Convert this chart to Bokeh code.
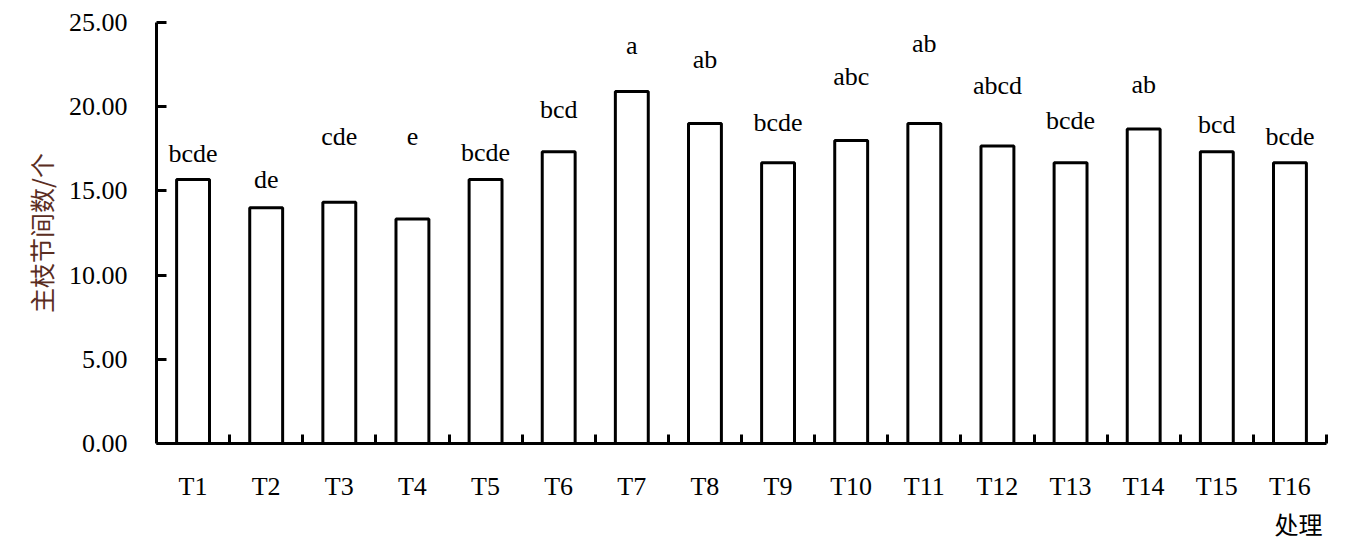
from bokeh.plotting import figure
from bokeh.models import (Range1d, LinearAxis, FixedTicker,
                          PrintfTickFormatter, Title, ColumnDataSource)
from bokeh.core.properties import value
from bokeh.embed import file_html
from bokeh.resources import INLINE

categories = ["T1", "T2", "T3", "T4", "T5", "T6", "T7", "T8",
              "T9", "T10", "T11", "T12", "T13", "T14", "T15", "T16"]
values = [15.67, 14.00, 14.33, 13.33, 15.67, 17.33, 20.90, 19.00,
          16.67, 18.00, 19.00, 17.67, 16.67, 18.67, 17.33, 16.67]
letters = ["bcde", "de", "cde", "e", "bcde", "bcd", "a", "ab",
           "bcde", "abc", "ab", "abcd", "bcde", "ab", "bcd", "bcde"]
letter_y = [17.25, 15.68, 18.24, 18.24, 17.29, 19.86, 23.62, 22.82,
            19.07, 21.78, 23.77, 21.25, 19.17, 21.34, 18.97, 18.24]
y_ticks = [0, 5, 10, 15, 20, 25]
y_label = "主枝节间数/个"
x_label = "处理"

SERIF = "Liberation Serif"
CJK = "Noto Sans CJK SC"

n = len(categories)
centers = [i + 0.5 for i in range(n)]
edges = [float(i) for i in range(1, n + 1)]

src = ColumnDataSource(dict(x=centers, val=values, let=letters, ly=letter_y))

p = figure(width=1351, height=540, x_range=Range1d(0, n), y_range=Range1d(0, 25),
           output_backend="svg", toolbar_location=None, x_axis_location=None, y_axis_location=None,
           min_border_left=156, min_border_right=25, min_border_top=22, min_border_bottom=96)
p.outline_line_color = None
p.xgrid.visible = False
p.ygrid.visible = False

p.vbar(x="x", top="val", width=0.45, source=src, fill_color="white",
       line_color="black", line_width=3)

p.text(x="x", y="ly", text="let", source=src, text_align="center", text_baseline="alphabetic",
       text_font=value(SERIF), text_font_size="26px", text_color="black")

# y axis
yax = LinearAxis(ticker=FixedTicker(ticks=y_ticks), formatter=PrintfTickFormatter(format="%.2f"),
                 axis_line_width=3, axis_line_color="black",
                 major_tick_in=10, major_tick_out=0, major_tick_line_width=3,
                 minor_tick_line_color=None,
                 major_label_text_font=SERIF, major_label_text_font_size="26px",
                 major_label_text_color="black", major_label_standoff=29,
                 axis_label=y_label, axis_label_text_font=CJK, axis_label_text_font_size="25px",
                 axis_label_text_font_style="normal", axis_label_text_color="#5a2d22",
                 axis_label_standoff=7)
p.add_layout(yax, "left")

# x axis: labels at category centres, inward ticks at category boundaries
xax = LinearAxis(ticker=FixedTicker(ticks=centers, minor_ticks=edges),
                 major_label_overrides={c: name for c, name in zip(centers, categories)},
                 axis_line_width=3, axis_line_color="black",
                 major_tick_line_color=None, major_tick_in=0, major_tick_out=0,
                 minor_tick_in=9, minor_tick_out=0, minor_tick_line_width=3,
                 minor_tick_line_color="black",
                 major_label_text_font=SERIF, major_label_text_font_size="26px",
                 major_label_text_color="black", major_label_standoff=28)
p.add_layout(xax, "below")

p.add_layout(Title(text=x_label, align="right", offset=4, standoff=0,
                   text_font=CJK, text_font_size="24px", text_font_style="normal",
                   text_color="black"), "below")

open("out.html", "w").write(file_html(p, INLINE))
